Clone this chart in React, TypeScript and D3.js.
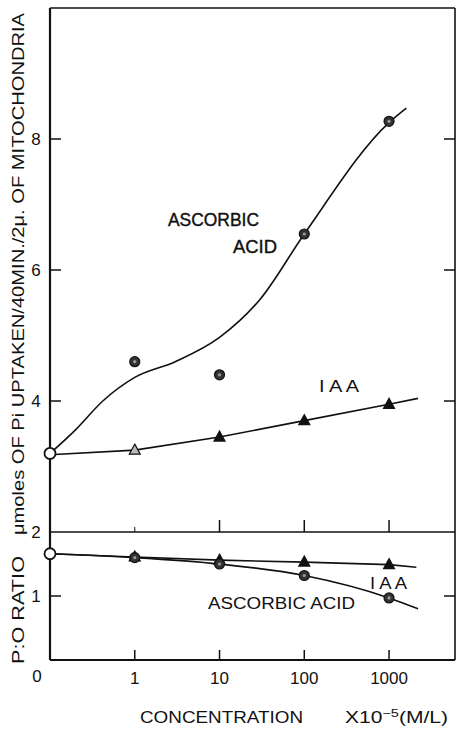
import React from 'react'
import * as d3 from 'd3'

// concentrations x10^-5 M/L; 0 is drawn one decade left of 1
const concentrations = [0, 1, 10, 100, 1000]
const xTickLabels = ['1', '10', '100', '1000']
const uptakeTicks = [4, 6, 8]
const ratioTicks = [1]

const ascorbicUptake = [3.2, 4.6, 4.4, 6.55, 8.27]
const iaaUptake = [3.2, 3.25, 3.45, 3.7, 3.95]
const ascorbicRatio = [1.66, 1.6, 1.5, 1.32, 0.97]
const iaaRatio = [1.66, 1.61, 1.56, 1.53, 1.49]

// hand drawn fitted curves
const ascorbicUptakeCurveX = [0, 0.2, 0.42, 1, 3, 10, 30, 100, 1000, 1600]
const ascorbicUptakeCurveY = [3.2, 3.56, 4.0, 4.36, 4.6, 4.97, 5.55, 6.55, 8.25, 8.47]
const iaaUptakeLineX = [0, 1, 10, 100, 1000, 2200]
const iaaUptakeLineY = [3.18, 3.25, 3.45, 3.7, 3.95, 4.04]
const ascorbicRatioCurveX = [0, 1, 10, 100, 1000, 2200]
const ascorbicRatioCurveY = [1.66, 1.6, 1.5, 1.32, 0.97, 0.8]
const iaaRatioLineX = [0, 1, 10, 100, 1000, 2100]
const iaaRatioLineY = [1.66, 1.61, 1.56, 1.53, 1.49, 1.45]

const W = 459, H = 730
const left = 50, right = 455, top = 8, split = 532, bottom = 660
const font = '"Liberation Sans", Arial, sans-serif'
const ink = '#111'

const x = d3.scaleLog().domain([0.1, 6000]).range([left, right])
const xc = (c: number) => x(c === 0 ? 0.1 : c)
const yTop = d3.scaleLinear().domain([2, 10]).range([split, top])
const yBot = d3.scaleLinear().domain([0, 2]).range([bottom, split])

const pairs = (xs: number[], ys: number[]) => xs.map((c, i) => [c, ys[i]] as [number, number])

const Triangle = ({ cx, cy, fill }: { cx: number; cy: number; fill: string }) => (
    <path d={`M${cx},${cy - 6} L${cx + 5.5},${cy + 4} L${cx - 5.5},${cy + 4} Z`} fill={fill} stroke={ink} strokeWidth={1.2} />
)

const Dot = ({ cx, cy }: { cx: number; cy: number }) => (
    <g>
        <circle cx={cx} cy={cy} r={5} fill="#333" stroke={ink} strokeWidth={1.2} />
        <circle cx={cx} cy={cy} r={1.6} fill="#999" />
    </g>
)

export default function App() {
    const lineTop = d3.line<[number, number]>().x(d => xc(d[0])).y(d => yTop(d[1]))
    const lineBot = d3.line<[number, number]>().x(d => xc(d[0])).y(d => yBot(d[1]))
    const smoothTop = d3.line<[number, number]>().x(d => xc(d[0])).y(d => yTop(d[1])).curve(d3.curveMonotoneX)
    const smoothBot = d3.line<[number, number]>().x(d => xc(d[0])).y(d => yBot(d[1])).curve(d3.curveMonotoneX)

    const tickX = concentrations.slice(1)

    return (
        <div>
            <style>{`body{margin:0;background:#fff}`}</style>
            <svg width={W} height={H} style={{ display: 'block' }}>
                <rect width={W} height={H} fill="#fff" />

                {/* frame */}
                <g stroke={ink} fill="none">
                    <line x1={left} x2={left} y1={top} y2={bottom} strokeWidth={2.2} />
                    <line x1={left} x2={right} y1={top} y2={top} strokeWidth={1.6} />
                    <line x1={right} x2={right} y1={top} y2={bottom} strokeWidth={1.6} />
                    <line x1={left} x2={right} y1={split} y2={split} strokeWidth={1.6} />
                    <line x1={left} x2={right} y1={bottom} y2={bottom} strokeWidth={2} />
                </g>

                {/* ticks */}
                <g stroke={ink} strokeWidth={1.5}>
                    {uptakeTicks.map(t => (
                        <g key={'u' + t}>
                            <line x1={left} x2={left + 11} y1={yTop(t)} y2={yTop(t)} />
                            <line x1={right} x2={right - 11} y1={yTop(t)} y2={yTop(t)} />
                        </g>
                    ))}
                    {ratioTicks.map(t => (
                        <g key={'r' + t}>
                            <line x1={left} x2={left + 11} y1={yBot(t)} y2={yBot(t)} />
                            <line x1={right} x2={right - 11} y1={yBot(t)} y2={yBot(t)} />
                        </g>
                    ))}
                    {tickX.map((c, i) => (
                        <g key={'x' + c}>
                            <line x1={xc(c)} x2={xc(c)} y1={split} y2={split - (i === 0 ? 5 : 12)} strokeWidth={i === 0 ? 1 : 1.5} />
                            <line x1={xc(c)} x2={xc(c)} y1={bottom} y2={bottom - 10} />
                        </g>
                    ))}
                </g>

                {/* tick labels */}
                <g fontFamily={font} fontSize={17} fill={ink} textAnchor="middle">
                    {[2, ...uptakeTicks].map(t => (
                        <text key={'ul' + t} x={left - 14} y={yTop(t) + 6}>{t}</text>
                    ))}
                    {ratioTicks.map(t => (
                        <text key={'rl' + t} x={left - 14} y={yBot(t) + 6}>{t}</text>
                    ))}
                    <text x={left - 13} y={bottom + 22}>0</text>
                    {tickX.map((c, i) => (
                        <text key={'xl' + c} x={xc(c)} y={bottom + 24}>{xTickLabels[i]}</text>
                    ))}
                </g>

                {/* axis titles */}
                <g fontFamily={font} fill={ink}>
                    <text transform={`translate(24,${(top + split) / 2 + 4}) rotate(-90)`} textAnchor="middle"
                        fontSize={16} textLength={522} lengthAdjust="spacingAndGlyphs">
                        μmoles OF Pi UPTAKEN/40MIN./2μ. OF MITOCHONDRIA
                    </text>
                    <text transform={`translate(24,610) rotate(-90)`} textAnchor="middle" fontSize={16}
                        textLength={108} lengthAdjust="spacingAndGlyphs">
                        P:O RATIO
                    </text>
                    <text x={140} y={723} fontSize={16} textLength={163} lengthAdjust="spacingAndGlyphs">CONCENTRATION</text>
                    <text x={345} y={723} fontSize={16} textLength={103} lengthAdjust="spacingAndGlyphs">
                        X10<tspan dy={-6} fontSize={11}>−5</tspan><tspan dy={6}>(M/L)</tspan>
                    </text>
                </g>

                {/* series labels */}
                <g fontFamily={font} fill={ink} fontSize={18} stroke={ink} strokeWidth={0.4}>
                    <text x={168} y={226} textLength={91} lengthAdjust="spacingAndGlyphs">ASCORBIC</text>
                    <text x={233} y={253} textLength={44} lengthAdjust="spacingAndGlyphs">ACID</text>
                </g>
                <g fontFamily={font} fill={ink} fontSize={16}>
                    <text x={319} y={392} textLength={40} lengthAdjust="spacingAndGlyphs">I A A</text>
                    <text x={370} y={589} textLength={37} lengthAdjust="spacingAndGlyphs">I A A</text>
                    <text x={208} y={609} textLength={147} lengthAdjust="spacingAndGlyphs">ASCORBIC ACID</text>
                </g>

                {/* curves */}
                <g fill="none" stroke={ink} strokeWidth={1.6}>
                    <path d={smoothTop(pairs(ascorbicUptakeCurveX, ascorbicUptakeCurveY)) ?? ''} />
                    <path d={lineTop(pairs(iaaUptakeLineX, iaaUptakeLineY)) ?? ''} />
                    <path d={smoothBot(pairs(ascorbicRatioCurveX, ascorbicRatioCurveY)) ?? ''} />
                    <path d={lineBot(pairs(iaaRatioLineX, iaaRatioLineY)) ?? ''} />
                </g>

                {/* markers */}
                {concentrations.map((c, i) => i === 0 ? null : (
                    <g key={'m' + c}>
                        <Triangle cx={xc(c)} cy={yTop(iaaUptake[i])} fill={i === 1 ? '#bbb' : ink} />
                        <Dot cx={xc(c)} cy={yTop(ascorbicUptake[i])} />
                        <Triangle cx={xc(c)} cy={yBot(iaaRatio[i])} fill={ink} />
                        <Dot cx={xc(c)} cy={yBot(ascorbicRatio[i])} />
                    </g>
                ))}
                <circle cx={xc(0)} cy={yTop(ascorbicUptake[0])} r={5.5} fill="#fff" stroke={ink} strokeWidth={1.8} />
                <circle cx={xc(0)} cy={yBot(ascorbicRatio[0])} r={5.5} fill="#fff" stroke={ink} strokeWidth={1.8} />
            </svg>
        </div>
    )
}
